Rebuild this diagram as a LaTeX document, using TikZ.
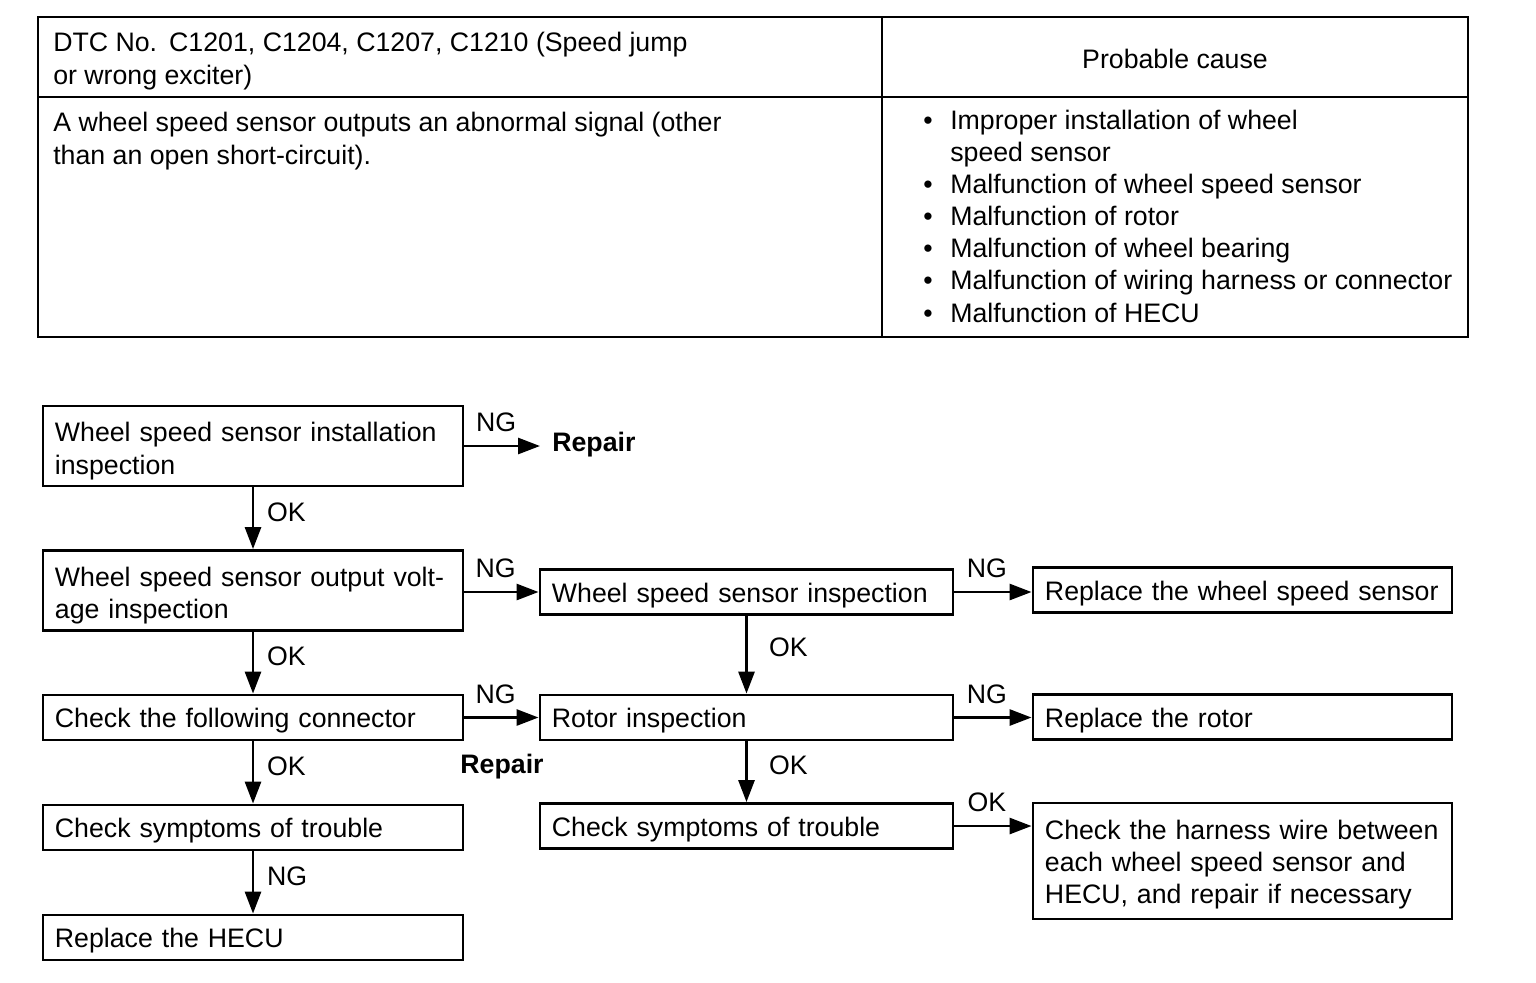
\documentclass[tikz,border=0pt]{standalone}
\usepackage{fontspec}
\setmainfont{Liberation Sans}
\usetikzlibrary{arrows.meta}
\newcommand{\bul}{\makebox[0.675cm][l]{\textbullet}}
\newcommand{\nobul}{\hspace*{0.675cm}}

\begin{document}
\begin{tikzpicture}[x=0.025cm, y=-0.025cm,
    every node/.style={font=\fontsize{19}{22.8}\selectfont},
    leftbox/.style={draw, line width=2pt, text width=9.9cm, inner xsep=0.3cm, inner ysep=0pt, align=left,
      execute at begin node={\rule{0pt}{18.5pt}}},
    midbox/.style={leftbox, text width=9.725cm},
    rightbox/.style={leftbox, text width=9.875cm},
    short/.style={minimum height=1.125cm},
    tall/.style={minimum height=2cm, execute at begin node={\rule{0pt}{21pt}}},
    fixtext/.style={font=\fontsize{19}{22.8}\selectfont\bfseries},
    plain/.style={inner sep=0pt, align=left},
    arr/.style={line width=2pt, arrows=-{Triangle[length=0.55cm,width=0.4cm]}},
    hlbl/.style={above=7pt, inner sep=2pt, pos=0.42},
    vlbl/.style={right=7pt, inner sep=2pt, pos=0.4}]
          \useasboundingbox (0,0) rectangle (1536,982);

          % table
          \draw [line width=2pt] (38,17) rectangle (1468,337); % Draws a rectangle
          \draw [line width=2pt] (38,97) -- (1468,97);
          \draw [line width=2pt] (882,17) -- (882,337);

          % base anchor sits on the last line
          \node [plain, anchor=base west] (dtc) at (53,84) {DTC No.\hspace{0.45em}C1201, C1204, C1207, C1210 (Speed jump\\or wrong exciter)};
          \node [plain, anchor=base] (cause) at (1175,68) {Probable cause};
          \node [plain, anchor=base west] (cond) at (53,164) {A wheel speed sensor outputs an abnormal signal (other\\than an open short-circuit).};
          \node [plain, anchor=base west] (causes) at (923,322) {\bul Improper installation of wheel\\\nobul speed sensor\\\bul Malfunction of wheel speed sensor\\\bul Malfunction of rotor\\\bul Malfunction of wheel bearing\\\bul Malfunction of wiring harness or connector\\\bul Malfunction of HECU};

          % left column
          \node [leftbox, tall] (inst) at (253,446) {Wheel speed sensor installation\\inspection};
          \node [leftbox, tall] (volt) at (253,590.5) {Wheel speed sensor output volt-\\age inspection};
          \node [leftbox, short] (conn) at (253,717.5) {Check the following connector};
          \node [leftbox, short] (syma) at (253,827.5) {Check symptoms of trouble};
          \node [leftbox, short] (hecu) at (253,937.5) {Replace the HECU};

          % middle column
          \node [fixtext, anchor=west, inner xsep=0.3cm] (fixa) at (540,445) {Repair};
          \node [midbox, short] (sens) at (746.5,592) {Wheel speed sensor inspection};
          \node [midbox, short] (rotor) at (746.5,717.5) {Rotor inspection};
          \node [fixtext] (fixb) at (502,767) {Repair};
          \node [midbox, short] (symb) at (746.5,826) {Check symptoms of trouble};

          % right column
          \node [rightbox, short] (newsens) at (1242.5,590) {Replace the wheel speed sensor};
          \node [rightbox, short] (newrotor) at (1242.5,717) {Replace the rotor};
          \node [rightbox, minimum height=2.9cm] (harness) at (1242.5,861) {Check the harness wire between\\each wheel speed sensor and\\HECU, and repair if necessary};

          \draw [arr] (inst.east) -- (inst.east -| fixa.west) node [hlbl] {NG};
          \draw [arr] (volt.east |- sens.west) -- (sens.west) node [hlbl] {NG};
          \draw [arr] (sens.east) -- (sens.east -| newsens.west) node [hlbl] {NG};
          \draw [arr] (conn.east) -- (rotor.west) node [hlbl] {NG};
          \draw [arr] (rotor.east) -- (rotor.east -| newrotor.west) node [hlbl] {NG};
          \draw [arr] (symb.east) -- (symb.east -| harness.west) node [hlbl] {OK};

          \draw [arr] (inst) -- (volt) node [vlbl] {OK};
          \draw [arr] (volt) -- (conn) node [vlbl] {OK};
          \draw [arr] (conn) -- (syma) node [vlbl] {OK};
          \draw [arr] (syma) -- (hecu) node [vlbl] {NG};
          \draw [arr] (sens) -- (rotor) node [vlbl, xshift=6pt] {OK};
          \draw [arr] (rotor) -- (symb) node [vlbl, xshift=6pt] {OK};
\end{tikzpicture}
\end{document}
